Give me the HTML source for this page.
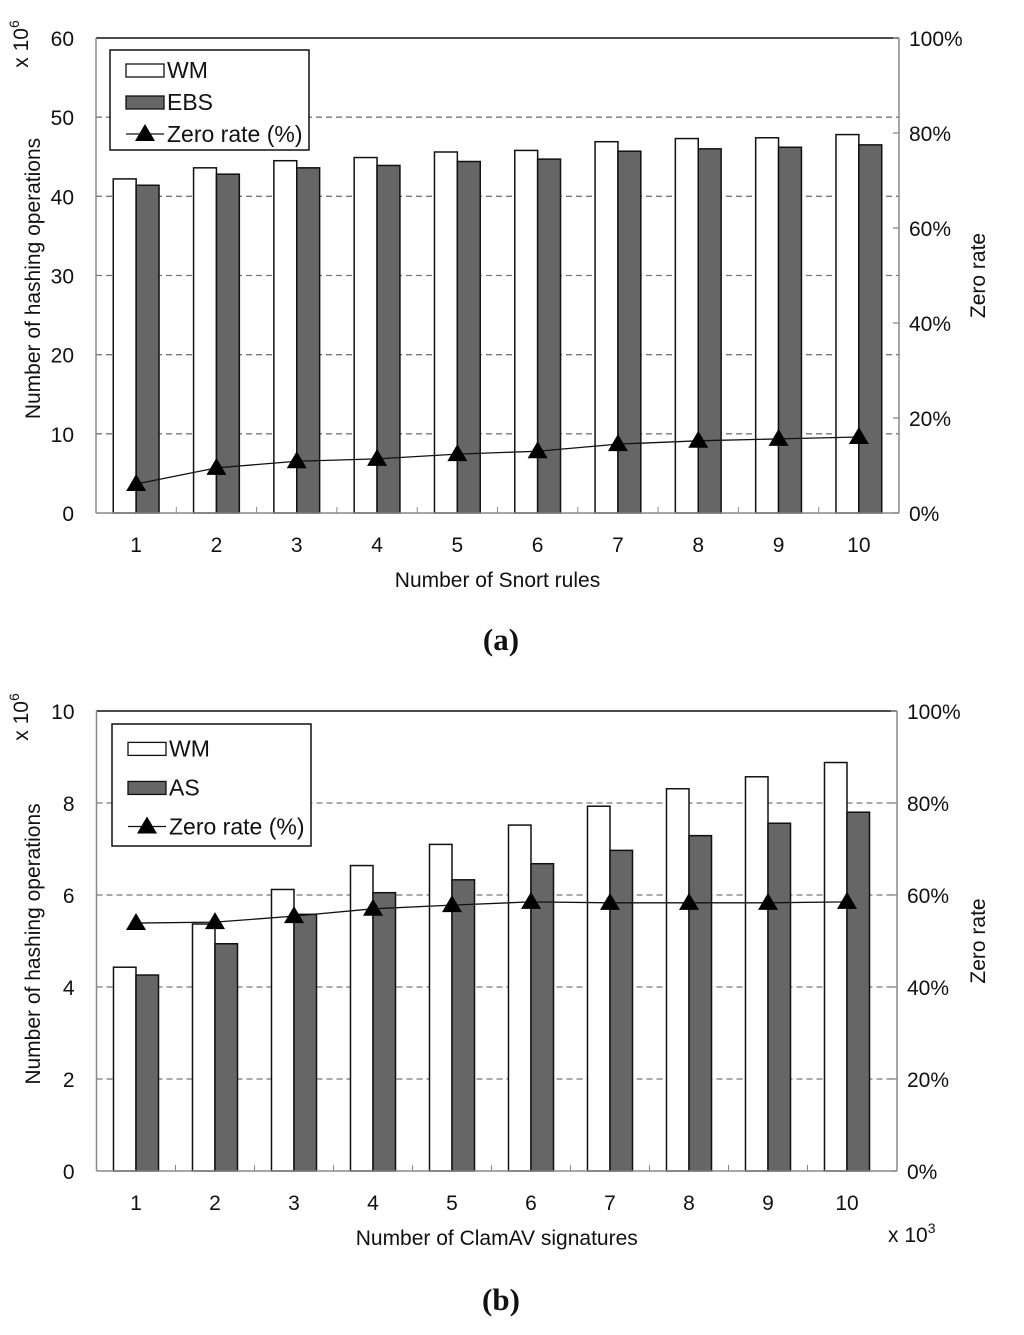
<!DOCTYPE html>
<html><head><meta charset="utf-8"><style>
body{margin:0;background:#fff;width:1024px;height:1330px;overflow:hidden}
svg text{font-family:"Liberation Sans",sans-serif;fill:#111}
</style></head><body>
<svg id="s" width="1024" height="1330" xmlns="http://www.w3.org/2000/svg">
<text x="501" y="650" style="font-family:'Liberation Serif',serif" font-size="31" font-weight="bold" text-anchor="middle">(a)</text>
<text x="501" y="1310" style="font-family:'Liberation Serif',serif" font-size="31" font-weight="bold" text-anchor="middle">(b)</text>
</svg>
<script>
const categoriesA=["1","2","3","4","5","6","7","8","9","10"];
const wmA=[42.2,43.6,44.5,44.9,45.6,45.8,46.9,47.3,47.4,47.8];
const ebsA=[41.4,42.8,43.6,43.9,44.4,44.7,45.7,46.0,46.2,46.5];
const zeroA=[6.1,9.5,10.9,11.4,12.4,13.0,14.5,15.2,15.6,16.0];
const leftTicksA=[0,10,20,30,40,50,60];
const categoriesB=["1","2","3","4","5","6","7","8","9","10"];
const wmB=[4.43,5.37,6.12,6.64,7.10,7.52,7.93,8.31,8.57,8.88];
const asB=[4.26,4.94,5.58,6.05,6.33,6.68,6.97,7.29,7.56,7.80];
const zeroB=[53.9,54.1,55.4,57.0,57.8,58.5,58.3,58.3,58.3,58.5];
const leftTicksB=[0,2,4,6,8,10];
const rightTicks=[0,20,40,60,80,100];
const svg=document.getElementById('s');
const NS='http://www.w3.org/2000/svg';
function mk(tag,a,p,name){const e=document.createElementNS(NS,tag);for(const k in a)e.setAttribute(k,a[k]);


(p||svg).appendChild(e);return e;}
function chart(o){
 const g=mk('g',{},svg,o.id);
 const y=v=>o.y0-(v/o.ymax)*(o.y0-o.y1);
 const yr=v=>o.y0-(v/100)*(o.y0-o.y1);
 const cx=i=>o.x0+o.band*(i+0.5);
 o.lt.forEach(t=>{ if(t>0&&t<o.ymax) mk('line',{x1:o.x0,x2:o.xr,y1:y(t),y2:y(t),stroke:'#777','stroke-dasharray':'6,4','stroke-width':1.3},g,'gridline');
  mk('text',{x:o.x0-22,y:y(t)+8,'font-size':21,'text-anchor':'end'},g,'y-tick-label').textContent=t;});
 mk('line',{x1:o.x0,x2:o.xr,y1:o.y1,y2:o.y1,stroke:'#111','stroke-width':1.5},g,'top-line');
 rightTicks.forEach(t=>{mk('text',{x:o.xr+10,y:yr(t)+8,'font-size':21},g,'right-tick-label').textContent=t+'%';
  mk('line',{x1:o.xr-6,x2:o.xr,y1:yr(t),y2:yr(t),stroke:'#888','stroke-width':1.3},g,'right-tick');});
 const bw=o.band*0.285;
 o.cats.forEach((c,i)=>{
  mk('rect',{x:cx(i)-bw,y:y(o.s1[i]),width:bw,height:o.y0-y(o.s1[i]),fill:'#fff',stroke:'#111','stroke-width':1.5},g,'bar-wm-'+c);
  mk('rect',{x:cx(i),y:y(o.s2[i]),width:bw,height:o.y0-y(o.s2[i]),fill:'#666',stroke:'#111','stroke-width':1.5},g,'bar-'+o.n2.toLowerCase()+'-'+c);
  mk('text',{x:cx(i),y:o.y0+39,'font-size':21,'text-anchor':'middle'},g,'x-tick-label').textContent=c;
  if(i>0) mk('line',{x1:o.x0+o.band*i,x2:o.x0+o.band*i,y1:o.y0,y2:o.y0-6,stroke:'#888'},g,'x-tick');
 });
 mk('polyline',{points:o.z.map((v,i)=>cx(i)+','+yr(v)).join(' '),fill:'none',stroke:'#111','stroke-width':1.3},g,'zero-rate-line');
 o.z.forEach((v,i)=>mk('polygon',{points:`${cx(i)},${yr(v)-10} ${cx(i)-10},${yr(v)+7} ${cx(i)+10},${yr(v)+7}`,fill:'#000'},g,'zero-rate-marker'));
 mk('line',{x1:o.x0,x2:o.x0,y1:o.y1,y2:o.y0,stroke:'#888','stroke-width':1.5},g,'left-axis');
 mk('line',{x1:o.xr,x2:o.xr,y1:o.y1,y2:o.y0,stroke:'#888','stroke-width':1.5},g,'right-axis');
 mk('line',{x1:o.x0,x2:o.xr,y1:o.y0,y2:o.y0,stroke:'#888','stroke-width':1.5},g,'x-axis');
 const L=mk('g',{},g,'legend');
 mk('rect',{x:o.lx,y:o.ly,width:o.lw,height:o.lh,fill:'#fff',stroke:'#111','stroke-width':1.5},L,'legend-box');
 const rows=[o.ly+o.lh*0.2,o.ly+o.lh*0.52,o.ly+o.lh*0.84];
 mk('rect',{x:o.lx+16,y:rows[0]-6,width:38,height:13,fill:'#fff',stroke:'#111','stroke-width':1.3},L,'legend-swatch-wm');
 mk('rect',{x:o.lx+16,y:rows[1]-6,width:38,height:13,fill:'#666',stroke:'#111','stroke-width':1.3},L,'legend-swatch-'+o.n2.toLowerCase());
 mk('line',{x1:o.lx+16,x2:o.lx+54,y1:rows[2],y2:rows[2],stroke:'#111','stroke-width':1.3},L,'legend-line');
 mk('polygon',{points:`${o.lx+35},${rows[2]-10} ${o.lx+25},${rows[2]+7} ${o.lx+45},${rows[2]+7}`,fill:'#000'},L,'legend-marker');
 ['WM',o.n2,'Zero rate (%)'].forEach((t,k)=>mk('text',{x:o.lx+57,y:rows[k]+8,'font-size':23},L,'legend-label').textContent=t);
 const my=(o.y0+o.y1)/2;
 mk('text',{x:40,y:my+3,'font-size':21,'text-anchor':'middle',transform:`rotate(-90 40 ${my+3})`},g,'y-axis-title').textContent='Number of hashing operations';
 mk('text',{x:985,y:my,'font-size':21,'text-anchor':'middle',transform:`rotate(-90 985 ${my})`},g,'right-axis-title').textContent='Zero  rate';
 mk('text',{x:28,y:o.y1+6,'font-size':21,'text-anchor':'middle',transform:`rotate(-90 28 ${o.y1+6})`},g,'y-scale-label').innerHTML='x 10<tspan font-size="14" dy="-9">6</tspan>';
 mk('text',{x:(o.x0+o.xr)/2,y:o.y0+74,'font-size':21,'text-anchor':'middle'},g,'x-axis-title').textContent=o.xt;
}
chart({id:'chart-a',x0:96,xr:899,band:80.3,y0:513,y1:38,ymax:60,lt:leftTicksA,cats:categoriesA,s1:wmA,s2:ebsA,z:zeroA,n2:'EBS',lx:110,ly:50,lw:199,lh:100,xt:'Number of Snort rules'});
chart({id:'chart-b',x0:96.5,xr:897,band:79,y0:1171,y1:711,ymax:10,lt:leftTicksB,cats:categoriesB,s1:wmB,s2:asB,z:zeroB,n2:'AS',lx:112,ly:724,lw:199,lh:122,xt:'Number of ClamAV signatures'});
const t=mk('text',{x:888,y:1242,'font-size':21},svg,'x-scale-label');t.innerHTML='x 10<tspan font-size="14" dy="-9">3</tspan>';
</script>
</body></html>
